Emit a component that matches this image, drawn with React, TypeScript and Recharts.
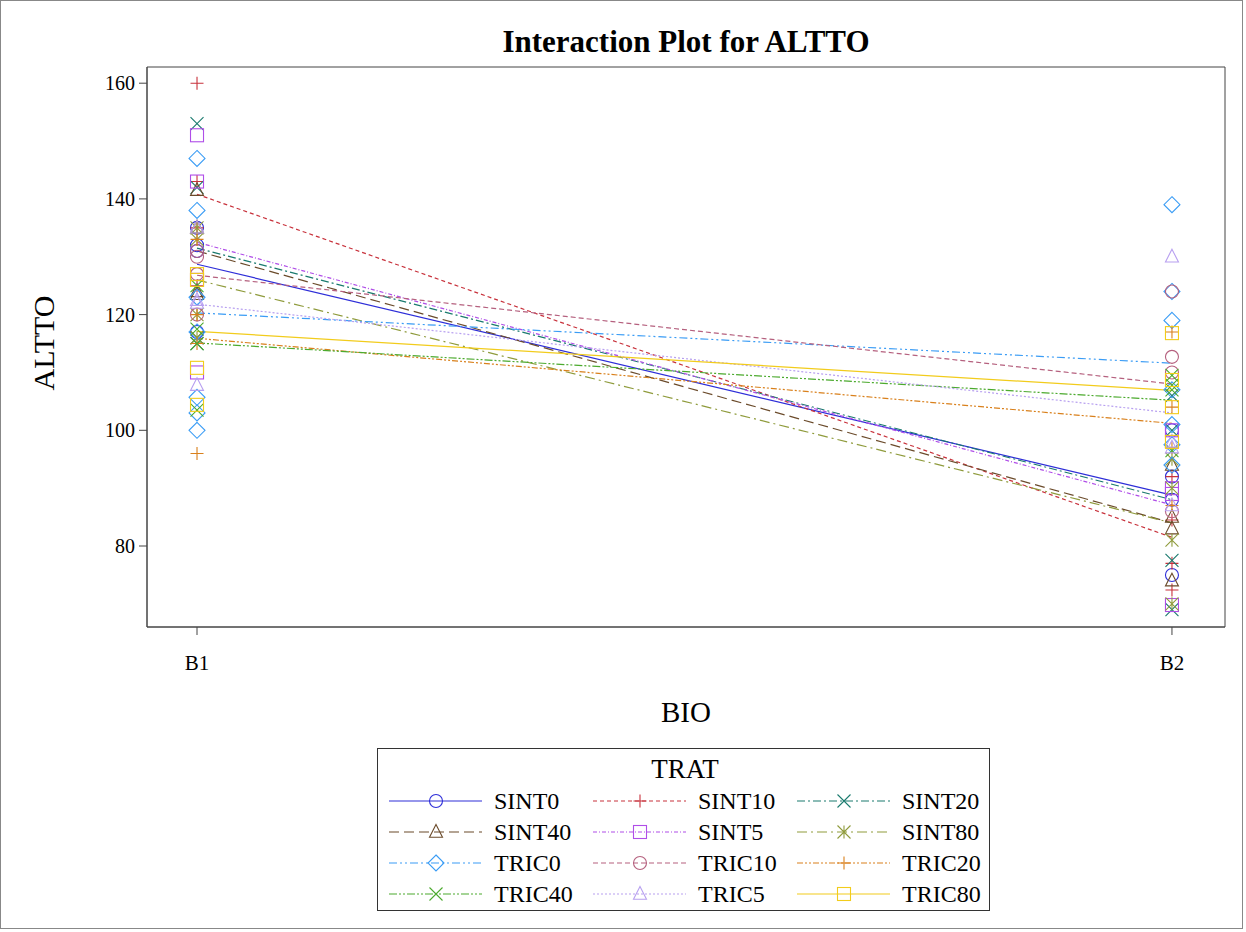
import React from "react";
import {
  ComposedChart,
  Line,
  Scatter,
  XAxis,
  YAxis,
  ReferenceArea,
} from "recharts";

// --- data ---
const bioLevels = ["B1", "B2"];
const treatments = [
  "SINT0", "SINT10", "SINT20",
  "SINT40", "SINT5", "SINT80",
  "TRIC0", "TRIC10", "TRIC20",
  "TRIC40", "TRIC5", "TRIC80",
];

// cell means (the connecting lines)
const meanB1 = [128.7, 140.8, 131.5, 131.0, 132.5, 126.0, 120.3, 126.8, 115.9, 115.1, 121.8, 117.1];
const meanB2 = [88.8, 81.5, 88.0, 84.0, 87.1, 84.0, 111.6, 108.0, 101.2, 105.2, 103.0, 106.9];

// individual observations
const obsB1 = [
  [135, 131, 117, 132],
  [160, 143, 125, 135],
  [153, 142, 116, 115],
  [141.5, 135, 124, 123.5],
  [151, 143, 126, 110],
  [135, 133, 120, 116],
  [147, 138, 123, 117, 105.7, 103, 100],
  [131, 130, 127, 120],
  [133, 120, 115, 96],
  [125, 117.5, 115, 103.5],
  [135, 122.5, 122, 107.8],
  [127, 126, 110.8, 104.4],
];
const obsB2 = [
  [100, 92, 88, 75],
  [92, 84.5, 72.4, 77],
  [106, 100, 77.5, 69],
  [94, 85, 83, 74],
  [100, 90, 89, 69.8],
  [95, 90, 81, 70],
  [139, 124, 119, 107, 101, 94, 97.5],
  [124, 112.7, 110, 86],
  [117, 104, 97, 87],
  [109.5, 107.8, 107, 96.5],
  [130, 97, 98, 87],
  [116.8, 108.7, 104, 98],
];

const yTicks = [80, 100, 120, 140, 160];
const yDomain = [66, 162.8];
const xDomain = [-0.0513, 1.0544];

// --- styles ---
const colors = [
  "#2e2ed8", "#c8323c", "#1a7a6e",
  "#6b4b2b", "#b04ee8", "#8f9b3c",
  "#3a9cf5", "#b5607e", "#d9801c",
  "#4caa2e", "#b8a0f0", "#f2cc1c",
];
const dashes = [
  undefined, "4 3", "8 3 2 3",
  "10 5", "4 2 1 2", "10 4 2 4",
  "8 3 2 3 2 3", "5 3", "6 2 2 2 2 2",
  "8 2 2 2 2 2", "2 2", undefined,
];
const symbols = [
  "circle", "plus", "x",
  "triangle", "square", "star",
  "diamond", "circle", "plus",
  "x", "triangle", "square",
];

const FONT = "'Liberation Serif', 'Times New Roman', serif";

function Marker({ cx, cy, kind, color }: { cx: number; cy: number; kind: string; color: string }) {
  const r = 6.5;
  const p = { fill: "none", stroke: color, strokeWidth: 1.1 };
  if (cx == null || cy == null) return <g />;
  switch (kind) {
    case "circle":
      return <circle cx={cx} cy={cy} r={r} {...p} />;
    case "plus":
      return <path d={`M${cx - r},${cy}H${cx + r}M${cx},${cy - r}V${cy + r}`} {...p} />;
    case "x":
      return (
        <path d={`M${cx - r},${cy - r}L${cx + r},${cy + r}M${cx - r},${cy + r}L${cx + r},${cy - r}`} {...p} />
      );
    case "triangle":
      return <path d={`M${cx},${cy - r - 1}L${cx + r},${cy + r * 0.8}L${cx - r},${cy + r * 0.8}Z`} {...p} />;
    case "square":
      return <rect x={cx - r} y={cy - r} width={r * 2} height={r * 2} {...p} />;
    case "diamond":
      return (
        <path d={`M${cx},${cy - r - 1.5}L${cx + r + 1.5},${cy}L${cx},${cy + r + 1.5}L${cx - r - 1.5},${cy}Z`} {...p} />
      );
    case "star":
      return (
        <path
          d={`M${cx - r},${cy - r}L${cx + r},${cy + r}M${cx - r},${cy + r}L${cx + r},${cy - r}M${cx},${cy - r}V${cy + r}`}
          {...p}
        />
      );
    default:
      return <g />;
  }
}

// legend layout
const legCols = [
  { x1: 389, x2: 482, mx: 436, tx: 494 },
  { x1: 593, x2: 686, mx: 640, tx: 698 },
  { x1: 797, x2: 890, mx: 844, tx: 902 },
];
const legRowY = [801, 832, 863, 894];

export default function App() {
  return (
    <div style={{ position: "absolute", left: 0, top: 0, width: 1246, height: 932, background: "#fff" }}>
      <ComposedChart
        width={1246}
        height={932}
        margin={{ top: 67, right: 21, left: 0, bottom: 245 }}
      >
        <XAxis
          type="number"
          dataKey="x"
          domain={xDomain}
          ticks={[0, 1]}
          allowDataOverflow
          tickFormatter={(v: number) => bioLevels[v] ?? ""}
          height={60}
          tickSize={8}
          tickMargin={20}
          stroke="#444"
          tick={{ fill: "#000", fontSize: 21, fontFamily: FONT }}
        />
        <YAxis
          type="number"
          dataKey="y"
          domain={yDomain}
          ticks={yTicks}
          allowDataOverflow
          width={147}
          tickSize={8}
          tickMargin={4}
          stroke="#444"
          tick={{ fill: "#000", fontSize: 20, fontFamily: FONT }}
        />
        <ReferenceArea
          x1={xDomain[0]}
          x2={xDomain[1]}
          y1={yDomain[0]}
          y2={yDomain[1]}
          fill="none"
          stroke="#444"
          strokeWidth={1}
          ifOverflow="visible"
        />
        {treatments.map((t, i) => (
          <Line
            key={"l" + t}
            data={[
              { x: 0, y: meanB1[i] },
              { x: 1, y: meanB2[i] },
            ]}
            dataKey="y"
            type="linear"
            stroke={colors[i]}
            strokeWidth={1.2}
            strokeDasharray={dashes[i]}
            dot={false}
            activeDot={false}
            isAnimationActive={false}
          />
        ))}
        {treatments.map((t, i) => (
          <Scatter
            key={"s" + t}
            data={[
              ...obsB1[i].map((y) => ({ x: 0, y })),
              ...obsB2[i].map((y) => ({ x: 1, y })),
            ]}
            dataKey="y"
            isAnimationActive={false}
            shape={(props: any) => (
              <Marker cx={props.cx} cy={props.cy} kind={symbols[i]} color={colors[i]} />
            )}
          />
        ))}
      </ComposedChart>

      <svg
        width={1246}
        height={932}
        style={{ position: "absolute", left: 0, top: 0, pointerEvents: "none" }}
        fontFamily={FONT}
      >
        <rect x={0.5} y={0.5} width={1242} height={928} fill="none" stroke="#888" />
        <text x={686} y={52} textAnchor="middle" fontSize={31} fontWeight="bold">
          Interaction Plot for ALTTO
        </text>
        <text x={686} y={722} textAnchor="middle" fontSize={29}>
          BIO
        </text>
        <text x={54} y={343} textAnchor="middle" fontSize={30} transform="rotate(-90 54 343)">
          ALTTO
        </text>

        <rect x={377.5} y={748.5} width={612} height={162} fill="#fff" stroke="#333" />
        <text x={685} y={778} textAnchor="middle" fontSize={27}>
          TRAT
        </text>
        {treatments.map((t, i) => {
          const c = legCols[i % 3];
          const y = legRowY[Math.floor(i / 3)];
          return (
            <g key={"leg" + t}>
              <line
                x1={c.x1}
                x2={c.x2}
                y1={y}
                y2={y}
                stroke={colors[i]}
                strokeWidth={1.2}
                strokeDasharray={dashes[i]}
              />
              <Marker cx={c.mx} cy={y} kind={symbols[i]} color={colors[i]} />
              <text x={c.tx} y={y + 8} fontSize={24}>
                {t}
              </text>
            </g>
          );
        })}
      </svg>
    </div>
  );
}
